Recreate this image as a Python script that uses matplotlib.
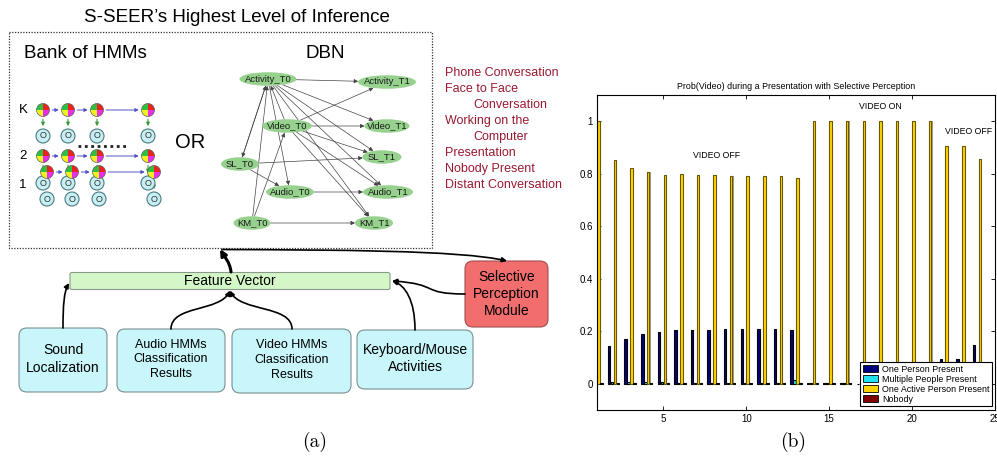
import matplotlib
matplotlib.use('Agg')
import matplotlib.pyplot as plt
import numpy as np
from matplotlib.patches import FancyBboxPatch, Ellipse, Wedge, Circle, Rectangle, FancyArrowPatch
from matplotlib.path import Path
from matplotlib.patches import PathPatch

# ---------------- data (panel b) ----------------
time_steps = list(range(1, 25))
one_person = [0.0, 0.145, 0.172, 0.189, 0.196, 0.203, 0.206, 0.206, 0.208, 0.209, 0.208, 0.209,
              0.204, 0.002, 0.002, 0.002, 0.0, 0.0, 0.0, 0.0, 0.0, 0.095, 0.095, 0.146]
multiple_people = [0.001, 0.005, 0.006, 0.006, 0.008, 0.003, 0.003, 0.003, 0.003, 0.003, 0.003, 0.003,
                   0.015, 0.002, 0.002, 0.002, 0.001, 0.001, 0.001, 0.001, 0.001, 0.001, 0.001, 0.001]
one_active = [1.0, 0.852, 0.823, 0.806, 0.797, 0.799, 0.796, 0.794, 0.792, 0.792, 0.792, 0.792,
              0.784, 1.0, 1.0, 1.0, 1.0, 1.0, 1.0, 1.0, 1.0, 0.906, 0.906, 0.856]
nobody = [0.002, 0.001, 0.001, 0.001, 0.001, 0.001, 0.001, 0.001, 0.001, 0.001, 0.001, 0.001,
          0.001, 0.002, 0.002, 0.002, 0.001, 0.001, 0.001, 0.001, 0.001, 0.001, 0.001, 0.001]
series_names = ["One Person Present", "Multiple People Present", "One Active Person Present", "Nobody"]
x_ticks = [5, 10, 15, 20, 25]
y_ticks = [0, 0.2, 0.4, 0.6, 0.8, 1]
y_tick_labels = ["0", "0.2", "0.4", "0.6", "0.8", "1"]
chart_title = "Prob(Video) during a Presentation with Selective Perception"
phase_labels = ["VIDEO OFF", "VIDEO ON", "VIDEO OFF"]
phase_x = [8.2, 18.1, 23.4]
phase_y = [0.869, 1.056, 0.961]

# ---------------- data (panel a) ----------------
activities = ["Phone Conversation", "Face to Face", "Conversation", "Working on the",
              "Computer", "Presentation", "Nobody Present", "Distant Conversation"]
dbn_nodes = ["Activity_T0", "Activity_T1", "Video_T0", "Video_T1", "SL_T0", "SL_T1",
             "Audio_T0", "Audio_T1", "KM_T0", "KM_T1"]
dbn_edges = [("Activity_T0", "Activity_T1"), ("Activity_T0", "Video_T1"), ("Activity_T0", "SL_T1"),
             ("Activity_T0", "Audio_T1"), ("Activity_T0", "KM_T1"), ("Activity_T0", "SL_T0"),
             ("Activity_T0", "Audio_T0"), ("Video_T0", "Activity_T0"), ("SL_T0", "Activity_T0"),
             ("KM_T0", "Activity_T0"), ("KM_T0", "Video_T0"), ("Video_T0", "Activity_T1"),
             ("Video_T0", "Video_T1"), ("Video_T0", "SL_T1"), ("Video_T0", "Audio_T1"),
             ("Video_T0", "KM_T1"), ("SL_T0", "SL_T1"), ("SL_T0", "Audio_T0"),
             ("Audio_T0", "Audio_T1"), ("KM_T0", "KM_T1")]
input_boxes = ["Sound\nLocalization", "Audio HMMs\nClassification\nResults",
               "Video HMMs\nClassification\nResults", "Keyboard/Mouse\nActivities"]

SANS = ['Liberation Sans', 'DejaVu Sans']
plt.rcParams['font.family'] = SANS

fig = plt.figure(figsize=(9.97, 4.58), dpi=100)
ax0 = fig.add_axes([0, 0, 1, 1])
ax0.set_xlim(0, 997)
ax0.set_ylim(458, 0)
ax0.axis('off')

# ---------- panel (a) ----------
ax0.text(237, 18, "S-SEER\u2019s Highest Level of Inference", ha='center', va='center', fontsize=13.5)
ax0.add_patch(Rectangle((9, 32), 423, 216, fill=False, ls=(0, (1, 1.2)), lw=0.9, ec='#333333'))
ax0.text(85, 53, "Bank of HMMs", ha='center', va='center', fontsize=13.5)
ax0.text(325, 53, "DBN", ha='center', va='center', fontsize=13.5)
ax0.text(190, 143, "OR", ha='center', va='center', fontsize=14.5)

def quad_circle(cx, cy, r=6.5):
    cols = [(0, 90, '#e62fe6'), (90, 180, '#f0f020'), (180, 270, '#30c040'), (270, 360, '#ee2020')]
    for t1, t2, c in cols:
        ax0.add_patch(Wedge((cx, cy), r, t1, t2, fc=c, ec='none', zorder=3))
    ax0.add_patch(Circle((cx, cy), r, fill=False, ec='#606060', lw=0.5, zorder=4))

def obs_circle(cx, cy, r=7):
    ax0.add_patch(Circle((cx, cy), r, fc='#c8f0f4', ec='#4a7a80', lw=0.8, zorder=3))
    ax0.text(cx, cy, "O", ha='center', va='center', fontsize=6.5, color='#333333', zorder=4)

def hmm_row(xs, ys, obs_y, label, lx, ly):
    for i in range(len(xs) - 1):
        ax0.annotate("", xy=(xs[i + 1] - 6.5, ys), xytext=(xs[i] + 6.5, ys),
                     arrowprops=dict(arrowstyle='-|>', color='#5050c8', lw=0.7,
                                     mutation_scale=5), zorder=2)
    for x in xs:
        ax0.annotate("", xy=(x, obs_y - 7), xytext=(x, ys + 6.5),
                     arrowprops=dict(arrowstyle='-|>', color='#3a9a3a', lw=0.8, mutation_scale=5),
                     zorder=2)
    for x in xs:
        quad_circle(x, ys)
    for x in xs:
        obs_circle(x, obs_y)
    ax0.text(lx, ly, label, ha='center', va='center', fontsize=9.5)

hmm_row([43, 68, 97, 148], 110, 136, "K", 23, 110)
ax0.plot([78, 128], [146, 146], ls=(0, (1, 1.3)), lw=2, color='#222222')
hmm_row([43, 68, 97, 148], 156, 183, "2", 23, 156)
hmm_row([47, 72, 99, 154], 172, 199, "1", 23, 185)

node_pos = {"Activity_T0": (268, 79, 57), "Activity_T1": (387, 82, 58), "Video_T0": (287, 126, 50),
            "Video_T1": (387, 126, 45), "SL_T0": (240, 164, 38), "SL_T1": (382, 157, 39),
            "Audio_T0": (290, 192, 48), "Audio_T1": (388, 192, 50), "KM_T0": (252, 223, 37),
            "KM_T1": (374, 223, 38)}
NH = 13.5

def boundary(name, dx, dy):
    cx, cy, w = node_pos[name]
    a, b = w / 2, NH / 2
    t = 1.0 / np.sqrt((dx / a) ** 2 + (dy / b) ** 2)
    return cx + t * dx, cy + t * dy

for s, d in dbn_edges:
    sx, sy, _ = node_pos[s]
    dx_, dy_, _ = node_pos[d]
    vx, vy = dx_ - sx, dy_ - sy
    p0 = boundary(s, vx, vy)
    p1 = boundary(d, -vx, -vy)
    ax0.annotate("", xy=p1, xytext=p0,
                 arrowprops=dict(arrowstyle='-|>', color='#444444', lw=0.5, mutation_scale=6,
                                 shrinkA=0, shrinkB=0), zorder=2)
for name in dbn_nodes:
    cx, cy, w = node_pos[name]
    ax0.add_patch(Ellipse((cx, cy), w, NH, fc='#96d28e', ec='none', zorder=3))
    ax0.text(cx, cy, name, ha='center', va='center', fontsize=6.8, color='#1a1a1a', zorder=4)

indented = {2, 4}
for i, line in enumerate(activities):
    ax0.text(473 if i in indented else 445, 73.5 + i * 15.95, line, ha='left', va='center',
             fontsize=9, color='#9a1a32')

# bottom part
ax0.add_patch(FancyBboxPatch((70, 272.5), 320, 17, boxstyle='round,pad=0,rounding_size=2',
                             fc='#d4f7c8', ec='#8a9a8a', lw=0.8, zorder=3))
ax0.text(230, 281, "Feature Vector", ha='center', va='center', fontsize=10, zorder=4)
ax0.add_patch(FancyBboxPatch((465, 261), 83, 66, boxstyle='round,pad=0,rounding_size=8',
                             fc='#f26d6d', ec='#a05050', lw=0.8, zorder=3))
ax0.text(506.5, 294, "Selective\nPerception\nModule", ha='center', va='center', fontsize=10,
         linespacing=1.25, zorder=4)
box_geo = [(19, 328, 88, 64, 10), (117, 329, 108, 63, 9), (232, 329, 119, 64, 9), (357, 330, 116, 59, 10)]
for (x, y, w, h, fs), label in zip(box_geo, input_boxes):
    ax0.add_patch(FancyBboxPatch((x, y), w, h, boxstyle='round,pad=0,rounding_size=8',
                                 fc='#c8f6fa', ec='#7a8f92', lw=0.8, zorder=3))
    ax0.text(x + w / 2, y + h / 2 - 1, label, ha='center', va='center', fontsize=fs,
             linespacing=1.3 if fs == 9 else 1.35, zorder=4)

def curve(points, lw=1.2, ms=7):
    # cubic bezier through control points, arrow at the end
    p = FancyArrowPatch(path=Path(points, [Path.MOVETO, Path.CURVE4, Path.CURVE4, Path.CURVE4]),
                        arrowstyle='-|>', mutation_scale=ms, lw=lw, color='black', zorder=5,
                        shrinkA=0, shrinkB=0)
    ax0.add_patch(p)

curve([(63, 328), (63, 305), (64, 292), (69, 283)])
curve([(171, 329), (171, 305), (220, 312), (230, 290.5)])
curve([(292, 329), (292, 305), (240, 312), (230, 290.5)])
curve([(415, 330), (415, 300), (405, 285), (392, 281)])
curve([(465, 294), (420, 294), (440, 284), (392, 281)])
curve([(231, 272), (230, 262), (224, 256), (220, 249)], lw=2.2, ms=9)
curve([(222, 249.5), (330, 250), (460, 250), (507, 261)])

# captions
ax0.text(315, 442, "(a)", ha='center', va='center', fontsize=14, family='cmr10')
ax0.text(793, 442, "(b)", ha='center', va='center', fontsize=14, family='cmr10')

# ---------- panel (b) ----------
W, H = 997, 458
ax = fig.add_axes([597 / W, (H - 410) / H, 398 / W, 315 / H])
series = [one_person, multiple_people, one_active, nobody]
colors = ['#00007f', '#20e2f0', '#ffd400', '#800000']
offsets = [-0.27, -0.09, 0.09, 0.27]
bw = 0.15
x = np.array(time_steps)
# grey rendering shadow on the right of the gold bars
ax.bar(x + offsets[2] + 0.07, one_active, width=bw, color='#a09a88', edgecolor='none', zorder=1)
handles = []
for vals, col, off, name in zip(series, colors, offsets, series_names):
    ec = '#6a5800' if col == '#ffd400' else 'black'
    ax.bar(x + off, vals, width=bw, color=col, edgecolor=ec, linewidth=0.8, zorder=2)
    handles.append(Rectangle((0, 0), 1, 1, fc=col, ec='black', lw=0.6))
ax.set_xlim(1, 25)
ax.set_ylim(-0.1, 1.1)
ax.set_xticks(x_ticks)
ax.set_xticklabels([str(t) for t in x_ticks])
ax.set_yticks(y_ticks)
ax.set_yticklabels(y_tick_labels)
ax.tick_params(direction='in', top=True, right=True, length=3, width=0.6, labelsize=7, pad=3)
for sp in ax.spines.values():
    sp.set_linewidth(0.8)
ax.set_title(chart_title, fontsize=6.4, pad=4)
for lab, xx, yy in zip(phase_labels, phase_x, phase_y):
    ax.text(xx, yy, lab, ha='center', va='center', fontsize=6.3)
leg = ax.legend(handles, series_names, loc='lower right', bbox_to_anchor=(0.992, 0.0127),
                borderaxespad=0, fontsize=6.4, fancybox=False, edgecolor='black', framealpha=1,
                handlelength=1.7, handleheight=0.9, labelspacing=0.12, borderpad=0.25,
                handletextpad=0.5)
leg.get_frame().set_linewidth(0.8)

fig.savefig('out.png', dpi=100)
